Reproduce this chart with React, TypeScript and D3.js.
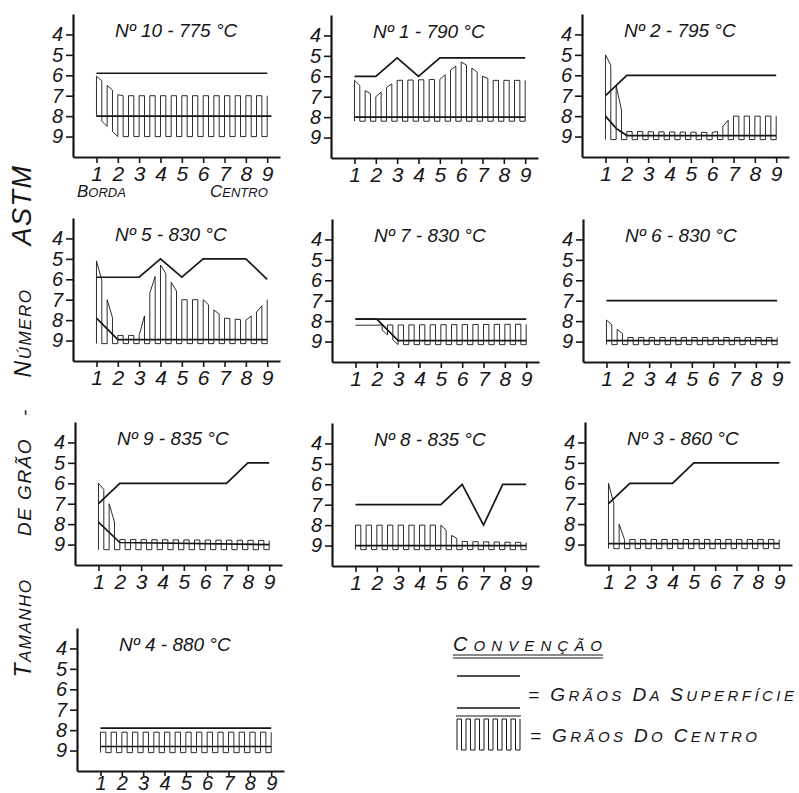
import React, { useEffect, useRef } from "react"
import * as d3 from "d3"

type Knot = [number, number]

const titles = [
  "Nº 10 - 775 °C",
  "Nº 1 - 790 °C",
  "Nº 2 - 795 °C",
  "Nº 5 - 830 °C",
  "Nº 7 - 830 °C",
  "Nº 6 - 830 °C",
  "Nº 9 - 835 °C",
  "Nº 8 - 835 °C",
  "Nº 3 - 860 °C",
  "Nº 4 - 880 °C",
]
const positions = [1, 2, 3, 4, 5, 6, 7, 8, 9]
const astmTicks = [4, 5, 6, 7, 8, 9]

// grãos da superfície: upper and lower solid lines (ASTM nº vs position)
const surfaceUpper: Knot[][] = [
  [[1, 5.9], [9, 5.9]],
  [[1, 6], [2, 6], [3, 5.1], [4, 6], [5, 5.1], [9, 5.1]],
  [[1, 7], [2, 6], [9, 6]],
  [[1, 5.9], [3, 5.9], [4, 5], [5, 5.9], [6, 5], [8, 5], [9, 6]],
  [[1, 7.9], [9, 7.9]],
  [[1, 7], [9, 7]],
  [[1, 7], [2, 6], [7, 6], [8, 5], [9, 5]],
  [[1, 7], [5, 7], [6, 6], [7, 8], [7.9, 6], [9, 6]],
  [[1, 7], [2, 6], [4, 6], [5, 5], [9, 5]],
  [[1, 7.9], [9, 7.9]],
]
const surfaceLower: Knot[][] = [
  [[1, 8], [9.2, 8]],
  [[1, 8], [9, 8]],
  [[1, 8], [1.5, 8.6], [2, 8.95], [9, 8.95]],
  [[1, 7.9], [2, 8.95], [9, 8.95]],
  [[1, 7.9], [2, 7.9], [3, 8.95], [9, 8.95]],
  [[1, 8.95], [9, 8.95]],
  [[1, 7.9], [2, 8.9], [9, 9]],
  [[1, 9], [9, 9]],
  [[1, 8.95], [9, 8.95]],
  [[1, 8.8], [9, 8.8]],
]

// grãos do centro: top and bottom of the hatched band
const centreUpper: Knot[][] = [
  [[1, 6.05], [1.5, 6.5], [2, 6.95], [2.2, 7], [9, 7]],
  [[1, 6.2], [1.5, 6.7], [2, 7], [2.5, 6.55], [3, 6.2], [5, 6.15], [5.5, 5.7], [6, 5.3], [6.5, 5.6], [7, 6], [7.5, 6.2], [9, 6.2]],
  [[1, 5], [1.25, 5.5], [1.5, 6.5], [1.75, 7.7], [2, 8.75], [6.2, 8.8], [6.5, 8.5], [6.75, 8.2], [7, 8], [9, 8]],
  [[1, 5.1], [1.5, 7], [2, 8.75], [3, 8.75], [3.3, 7.6], [3.6, 6.2], [4, 5.3], [5, 7], [6, 7], [6.5, 7.5], [7, 7.9], [8, 8], [8.5, 7.6], [9, 7]],
  [[1, 8.2], [9, 8.15]],
  [[1, 7.95], [1.5, 8.4], [2, 8.8], [9, 8.8]],
  [[1, 6], [1.25, 6.3], [1.5, 7], [1.75, 7.9], [2, 8.75], [9, 8.8]],
  [[1, 8], [5, 8], [5.5, 8.5], [6, 8.8], [9, 8.85]],
  [[1, 6], [1.25, 7], [1.5, 8], [1.75, 8.75], [9, 8.75]],
  [[1, 8.1], [9, 8.1]],
]
const centreLower: Knot[][] = [
  [[1, 8], [2, 9], [9, 9]],
  [[1, 8.2], [9, 8.2]],
  [[1, 9.15], [9, 9.15]],
  [[1, 9.15], [9, 9.15]],
  [[1, 8.2], [2, 8.2], [3, 9.15], [9, 9.15]],
  [[1, 9.15], [9, 9.15]],
  [[1, 9.25], [9, 9.25]],
  [[1, 9.2], [9, 9.2]],
  [[1, 9.2], [9, 9.2]],
  [[1, 9.1], [9, 9.1]],
]

// axis corner of each panel (x of y-axis, y of x-axis)
const panelOrigin = [
  [73, 157], [331, 158], [582, 157],
  [73, 361], [332, 362], [583, 362],
  [75, 565], [332, 566], [585, 565],
  [77, 771],
]

const INK = "#161616"
const FONT = "'Liberation Sans', 'DejaVu Sans', sans-serif"

type TextSel = d3.Selection<SVGTextElement, unknown, null, undefined>

// hand-lettered look: first letter of each word tall, the rest small capitals
function caps(t: TextSel, s: string, big: number, small: number) {
  s.split(" ").forEach((w, k) => {
    if (k > 0) t.append("tspan").attr("font-size", small).text(" ")
    t.append("tspan").attr("font-size", big).text(w[0].toUpperCase())
    if (w.length > 1) t.append("tspan").attr("font-size", small).text(w.slice(1).toUpperCase())
  })
  return t
}

export default function App() {
  const ref = useRef<SVGSVGElement>(null)

  useEffect(() => {
    const svg = d3.select(ref.current!)
    svg.selectAll("*").remove()

    const txt = (parent: any, x: number, y: number) =>
      parent
        .append("text")
        .attr("x", x)
        .attr("y", y)
        .attr("font-family", FONT)
        .attr("font-style", "italic")
        .attr("fill", INK) as TextSel

    titles.forEach((title, i) => {
      const [ox, oy] = panelOrigin[i]
      const x = d3.scaleLinear().domain([-0.1, 9.6]).range([ox, ox + 207])
      const y = d3.scaleLinear().domain([3, 10]).range([oy - 143, oy])
      const g = svg.append("g")

      // hatched centre band, drawn as a square wave between the two curves
      const up = centreUpper[i]
      const lo = centreLower[i]
      const top = d3.scaleLinear().domain(up.map((d) => d[0])).range(up.map((d) => d[1]))
      const bot = d3.scaleLinear().domain(lo.map((d) => d[0])).range(lo.map((d) => d[1]))
      const p = d3.path()
      d3.range(1, 9.001, 0.25).forEach((v, k) => {
        const X = x(v), T = y(top(v)), B = y(bot(v))
        if (k === 0) {
          p.moveTo(X, B)
          p.lineTo(X, T)
        } else if (k % 2 === 1) {
          p.lineTo(X, T)
          p.lineTo(X, B)
        } else {
          p.lineTo(X, B)
          p.lineTo(X, T)
        }
      })
      g.append("path").attr("d", p.toString()).attr("fill", "none").attr("stroke", INK).attr("stroke-width", 0.9)

      const line = d3.line<Knot>().x((d) => x(d[0])).y((d) => y(d[1]))
      ;[surfaceUpper[i], surfaceLower[i]].forEach((s) => {
        g.append("path").attr("d", line(s)!).attr("fill", "none").attr("stroke", INK).attr("stroke-width", 1.7)
      })

      const last = i === titles.length - 1
      const xa = g
        .append("g")
        .attr("transform", `translate(0,${oy})`)
        .call(
          d3.axisBottom(x).tickValues(positions).tickSize(last ? 5 : 6).tickSizeOuter(0).tickPadding(last ? 0 : 3)
        )
      const ya = g
        .append("g")
        .attr("transform", `translate(${ox},0)`)
        .call(
          d3.axisLeft(y).tickValues(astmTicks).tickFormat(d3.format("d")).tickSize(7).tickSizeOuter(0).tickPadding(3)
        )
      ;[xa, ya].forEach((a) => {
        a.attr("color", INK)
        a.select(".domain").attr("stroke-width", 2.2)
        a.selectAll(".tick line").attr("stroke-width", 1.6)
        a.selectAll("text").attr("font-family", FONT).attr("font-style", "italic")
      })
      xa.selectAll("text").attr("font-size", last ? 20 : 21)
      ya.selectAll("text").attr("font-size", 20)

      txt(g, ox + 42, oy - 120).attr("font-size", 19).text(title)

      if (i === 0) {
        caps(txt(g, ox + 4, oy + 40), "Borda", 17, 13)
        caps(txt(g, ox + 137, oy + 40), "Centro", 17, 13)
      }
    })

    // y label, written bottom to top
    const vlabel: [string, number, number, number][] = [
      ["Tamanho", 628, 23, 17],
      ["DE GRÃO", 487, 19, 19],
      ["-", 412, 19, 19],
      ["Número", 333, 23, 17],
      ["ASTM", 205, 27, 27],
    ]
    vlabel.forEach(([t, cy, big, small]) => {
      const el = svg
        .append("text")
        .attr("transform", `translate(31,${cy}) rotate(-90)`)
        .attr("text-anchor", "middle")
        .attr("font-family", FONT)
        .attr("font-style", "italic")
        .attr("letter-spacing", 1.5)
        .attr("fill", INK) as TextSel
      caps(el, t, big, small)
    })

    // legend
    const lg = svg.append("g")
    caps(txt(lg, 453, 651).attr("textLength", 149), "Convenção", 20, 15)
    ;[655, 658].forEach((yy) =>
      lg.append("line").attr("x1", 453).attr("x2", 603).attr("y1", yy).attr("y2", yy).attr("stroke", INK).attr("stroke-width", 1.2)
    )
    ;[676, 708].forEach((yy) =>
      lg.append("line").attr("x1", 457).attr("x2", 520).attr("y1", yy).attr("y2", yy).attr("stroke", INK).attr("stroke-width", 1.7)
    )
    lg.append("line").attr("x1", 456).attr("x2", 521).attr("y1", 716).attr("y2", 716).attr("stroke", INK).attr("stroke-width", 1.2)
    const lp = d3.path()
    d3.range(0, 15).forEach((k) => {
      const X = 457 + k * 4.5
      if (k === 0) {
        lp.moveTo(X, 750)
        lp.lineTo(X, 719)
      } else if (k % 2 === 1) {
        lp.lineTo(X, 719)
        lp.lineTo(X, 750)
      } else {
        lp.lineTo(X, 750)
        lp.lineTo(X, 719)
      }
    })
    lg.append("path").attr("d", lp.toString()).attr("fill", "none").attr("stroke", INK).attr("stroke-width", 1)
    caps(txt(lg, 528, 701).attr("textLength", 266), "= Grãos da superfície", 19, 15)
    caps(txt(lg, 530, 742).attr("textLength", 227), "= Grãos do centro", 19, 15)
  }, [])

  return (
    <svg
      ref={ref}
      width={799}
      height={793}
      style={{ position: "absolute", left: 0, top: 0, background: "#fff" }}
    />
  )
}
